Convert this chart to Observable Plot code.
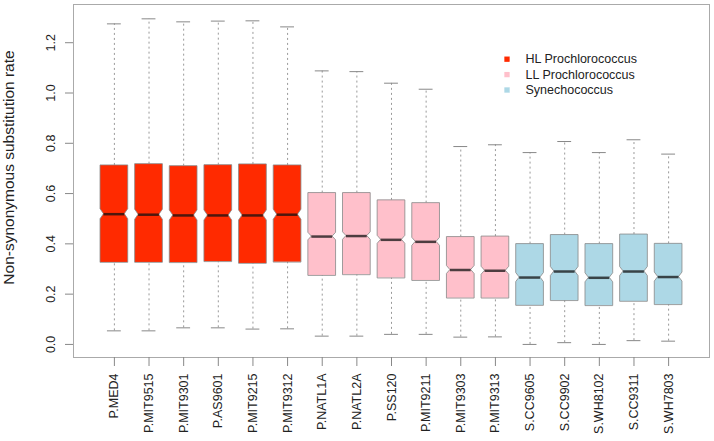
<!DOCTYPE html>
<html>
<head>
<meta charset="utf-8">
<script src="https://cdn.jsdelivr.net/npm/d3@7"></script>
<script src="https://cdn.jsdelivr.net/npm/@observablehq/plot@0.6"></script>
<style>
  html, body { margin: 0; padding: 0; background: #fff; }
  #chart { width: 714px; height: 441px; }
</style>
</head>
<body>
<div id="chart"></div>
<script>
// ---- data ----
const strains = ["P.MED4","P.MIT9515","P.MIT9301","P.AS9601","P.MIT9215","P.MIT9312",
  "P.NATL1A","P.NATL2A","P.SS120","P.MIT9211","P.MIT9303","P.MIT9313",
  "S.CC9605","S.CC9902","S.WH8102","S.CC9311","S.WH7803"];
const groupNames = ["HL Prochlorococcus", "LL Prochlorococcus", "Synechococcus"];
const groupOf = [0,0,0,0,0,0, 1,1,1,1,1,1, 2,2,2,2,2];
const groupColors = ["#ff2a00", "#ffc0cb", "#add8e6"];
const whiskerLow  = [0.054,0.054,0.066,0.066,0.061,0.062,0.033,0.033,0.040,0.040,0.029,0.030,0.000,0.007,0.000,0.015,0.013];
const q1          = [0.326,0.326,0.325,0.329,0.322,0.327,0.274,0.277,0.264,0.254,0.184,0.184,0.155,0.174,0.154,0.171,0.158];
const medians     = [0.518,0.516,0.513,0.513,0.513,0.516,0.429,0.431,0.416,0.408,0.296,0.293,0.266,0.290,0.265,0.290,0.268];
const q3          = [0.712,0.717,0.709,0.713,0.716,0.712,0.602,0.602,0.573,0.562,0.427,0.429,0.399,0.435,0.399,0.437,0.400];
const whiskerHigh = [1.275,1.295,1.283,1.286,1.287,1.263,1.088,1.085,1.039,1.015,0.787,0.794,0.763,0.807,0.763,0.814,0.757];
const notchHalf   = [0.020,0.020,0.020,0.020,0.020,0.020,0.015,0.015,0.016,0.016,0.016,0.016,0.018,0.018,0.018,0.018,0.018];
const yTicks = [0, 0.2, 0.4, 0.6, 0.8, 1.0, 1.2];
const yLabel = "Non-synonymous substitution rate";

// ---- derived tables ----
const boxes = strains.map((name, k) => ({
  name, pos: k + 1, group: groupNames[groupOf[k]],
  lo: whiskerLow[k], q1: q1[k], med: medians[k], q3: q3[k], hi: whiskerHigh[k], n: notchHalf[k]
}));
const HALF = 0.4, NOTCH_IN = 0.1, CAP = 0.2;
const outline = boxes.flatMap(b => [
  {pos: b.pos, group: b.group, y: b.q1,        w: HALF},
  {pos: b.pos, group: b.group, y: b.med - b.n, w: HALF},
  {pos: b.pos, group: b.group, y: b.med,       w: HALF - NOTCH_IN},
  {pos: b.pos, group: b.group, y: b.med + b.n, w: HALF},
  {pos: b.pos, group: b.group, y: b.q3,        w: HALF}
]);

const chart = Plot.plot({
  width: 714,
  height: 441,
  marginLeft: 73,
  marginRight: 5,
  marginTop: 4,
  marginBottom: 84,
  style: {fontFamily: "'Liberation Sans', Arial, sans-serif", fontSize: "12.5px", color: "#222", background: "#fff"},
  x: {domain: [-0.18, 18.18]},
  y: {domain: [-0.052, 1.352]},
  color: {domain: groupNames, range: groupColors},
  marks: [
    Plot.frame({stroke: "#aaa"}),
    // whiskers
    Plot.ruleX(boxes, {x: "pos", y1: "q3", y2: "hi", stroke: "#999", strokeDasharray: "2,3"}),
    Plot.ruleX(boxes, {x: "pos", y1: "lo", y2: "q1", stroke: "#999", strokeDasharray: "2,3"}),
    Plot.ruleY(boxes, {y: "hi", x1: d => d.pos - CAP, x2: d => d.pos + CAP, stroke: "#888"}),
    Plot.ruleY(boxes, {y: "lo", x1: d => d.pos - CAP, x2: d => d.pos + CAP, stroke: "#888"}),
    // notched boxes
    Plot.areaX(outline, {y: "y", x1: d => d.pos - d.w, x2: d => d.pos + d.w, z: "pos",
      fill: "group", stroke: "#888", strokeWidth: 0.8}),
    // medians
    Plot.ruleY(boxes, {y: "med", x1: d => d.pos - (HALF - NOTCH_IN), x2: d => d.pos + (HALF - NOTCH_IN),
      stroke: "#111", strokeWidth: 2.5, strokeOpacity: 0.75}),
    // axes
    Plot.axisY({ticks: yTicks, tickFormat: d3.format(".1f"), tickRotate: -90, tickSize: 8, tickPadding: 11,
      stroke: "#888", label: null, fontSize: 12.5}),
    Plot.axisX({ticks: boxes.map(b => b.pos), tickFormat: p => strains[p - 1], tickRotate: -90, tickSize: 9,
      tickPadding: 7, stroke: "#888", label: null}),
    // y-axis title
    Plot.text([yLabel], {frameAnchor: "left", text: d => d, rotate: -90, dx: -59.5, dy: -13.5,
      lineAnchor: "bottom", textAnchor: "middle", fontSize: 15.5, fill: "#222"}),
    // legend
    ...groupNames.map((g, k) => Plot.dot([g], {frameAnchor: "top-left", dx: 433.5, dy: 54.7 + k * 15.4,
      symbol: "square", r: 3, fill: d => d, stroke: null})),
    ...groupNames.map((g, k) => Plot.text([g], {frameAnchor: "top-left", dx: 452, dy: 54.7 + k * 15.4,
      text: d => d, textAnchor: "start", lineAnchor: "middle", fill: "#222", fontSize: 12.5}))
  ]
});
document.getElementById("chart").appendChild(chart);
</script>
</body>
</html>
